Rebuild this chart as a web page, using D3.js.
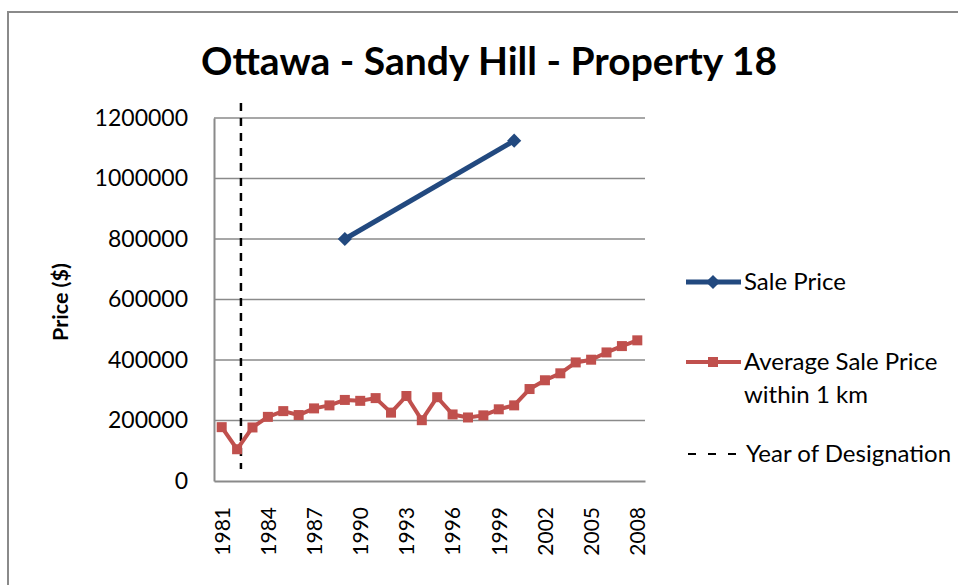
<!DOCTYPE html>
<html>
<head>
<meta charset="utf-8">
<script src="https://cdn.jsdelivr.net/npm/d3@7"></script>
<style>
  body { margin: 0; background: #fff; }
  svg { display: block; font-family: Lato, "Open Sans", sans-serif; }
</style>
</head>
<body>
<svg id="chart" width="958" height="585"></svg>
<script>
// data
const years = d3.range(1981, 2009);
const avgPrice = [178000, 105000, 177000, 212000, 231000, 218000, 240000, 250000, 268000, 265000,
                  274000, 226000, 281000, 201000, 277000, 220000, 210000, 217000, 237000, 250000,
                  304000, 333000, 356000, 392000, 401000, 425000, 446000, 465000];
const saleYears = [1989, 2000];
const salePrice = [800000, 1125000];
const designationYear = 1982.25;
const designationSpan = [40000, 1250000];
const yTicks = [0, 200000, 400000, 600000, 800000, 1000000, 1200000];
const xTickYears = [1981, 1984, 1987, 1990, 1993, 1996, 1999, 2002, 2005, 2008];

const blue = "#22497f", red = "#c0504d", grid = "#8a8a8a";

let svg = d3.select("#chart");
let margin = { left: 214, right: 313, top: 118, bottom: 104 };
let width = 958 - margin.left - margin.right,
    height = 585 - margin.top - margin.bottom;

// outer chart border
svg.append("rect")
    .attr("x", 8).attr("y", 12)
    .attr("width", 980).attr("height", 600)
    .attr("fill", "none").attr("stroke", grid).attr("stroke-width", 2);

svg.append("text")
    .attr("x", 489).attr("y", 75)
    .attr("text-anchor", "middle")
    .attr("font-size", 39).attr("font-weight", "bold")
    .text("Ottawa - Sandy Hill - Property 18");

let g = svg.append("g").attr("transform", `translate(${margin.left},${margin.top})`);

let x = d3.scaleLinear().domain([1980.5, 2008.5]).range([0, width]);
let y = d3.scaleLinear().domain([0, 1200000]).range([height, 0]);

// gridlines
g.append("g")
    .selectAll("line")
    .data(yTicks.filter(d => d > 0))
    .join("line")
    .attr("x1", 0).attr("x2", width)
    .attr("y1", d => y(d)).attr("y2", d => y(d))
    .attr("stroke", grid).attr("stroke-width", 1.5);

// axes
let yAxis = g.append("g")
    .call(d3.axisLeft(y).tickValues(yTicks).tickSize(0).tickPadding(26).tickFormat(d3.format("d")));
yAxis.select(".domain").attr("stroke", grid).attr("stroke-width", 2);
yAxis.selectAll("text").attr("font-size", 23).attr("fill", "#000")
    .attr("font-family", "Lato, sans-serif");

let xAxis = g.append("g")
    .attr("transform", `translate(0,${height})`)
    .call(d3.axisBottom(x).tickValues(xTickYears).tickSize(0).tickFormat(d3.format("d")));
xAxis.select(".domain").attr("stroke", grid).attr("stroke-width", 2);
xAxis.selectAll("text")
    .attr("font-size", 21).attr("fill", "#000")
    .attr("font-family", "Lato, sans-serif")
    .attr("transform", "rotate(-90)")
    .attr("text-anchor", "end")
    .attr("dx", "-26").attr("dy", "0.35em")
    .attr("x", 0).attr("y", 0);

// y axis title
svg.append("text")
    .attr("transform", "translate(68,302) rotate(-90)")
    .attr("text-anchor", "middle")
    .attr("font-size", 21.5).attr("font-weight", "bold")
    .text("Price ($)");

// designation line
g.append("line")
    .attr("x1", x(designationYear)).attr("x2", x(designationYear))
    .attr("y1", y(designationSpan[1])).attr("y2", y(designationSpan[0]))
    .attr("stroke", "#000").attr("stroke-width", 2.5).attr("stroke-dasharray", "8,7");

// average price series
let avgData = years.map((yr, i) => [yr, avgPrice[i]]);
let line = d3.line().x(d => x(d[0])).y(d => y(d[1]));

g.append("path")
    .datum(avgData)
    .attr("d", line)
    .attr("fill", "none").attr("stroke", red).attr("stroke-width", 4)
    .attr("stroke-linejoin", "round");
g.append("g")
    .selectAll("rect")
    .data(avgData)
    .join("rect")
    .attr("x", d => x(d[0]) - 5).attr("y", d => y(d[1]) - 5)
    .attr("width", 10).attr("height", 10)
    .attr("fill", red);

// sale price series
let saleData = saleYears.map((yr, i) => [yr, salePrice[i]]);
g.append("path")
    .datum(saleData)
    .attr("d", line)
    .attr("fill", "none").attr("stroke", blue).attr("stroke-width", 5);
g.append("g")
    .selectAll("path")
    .data(saleData)
    .join("path")
    .attr("d", d3.symbol(d3.symbolSquare, 100))
    .attr("transform", d => `translate(${x(d[0])},${y(d[1])}) rotate(45)`)
    .attr("fill", blue);

// legend
let legend = svg.append("g").attr("transform", "translate(686,0)");
let lg1 = legend.append("g").attr("transform", "translate(0,282)");
lg1.append("line").attr("x1", 0).attr("x2", 55).attr("stroke", blue).attr("stroke-width", 5);
lg1.append("path").attr("d", d3.symbol(d3.symbolSquare, 100))
    .attr("transform", "translate(27,0) rotate(45)").attr("fill", blue);
lg1.append("text").attr("x", 58).attr("dy", "0.35em").attr("font-size", 24).text("Sale Price");

let lg2 = legend.append("g").attr("transform", "translate(0,362)");
lg2.append("line").attr("x1", 0).attr("x2", 55).attr("stroke", red).attr("stroke-width", 4);
lg2.append("rect").attr("x", 22).attr("y", -5).attr("width", 10).attr("height", 10).attr("fill", red);
lg2.append("text").attr("x", 58).attr("dy", "0.35em").attr("font-size", 24).text("Average Sale Price");
lg2.append("text").attr("x", 58).attr("y", 33).attr("dy", "0.35em").attr("font-size", 24).text("within 1 km");

let lg3 = legend.append("g").attr("transform", "translate(0,454)");
lg3.append("line").attr("x1", 2).attr("x2", 52).attr("stroke", "#000").attr("stroke-width", 2)
    .attr("stroke-dasharray", "8,12");
lg3.append("text").attr("x", 60).attr("dy", "0.35em").attr("font-size", 24).text("Year of Designation");
</script>
</body>
</html>
